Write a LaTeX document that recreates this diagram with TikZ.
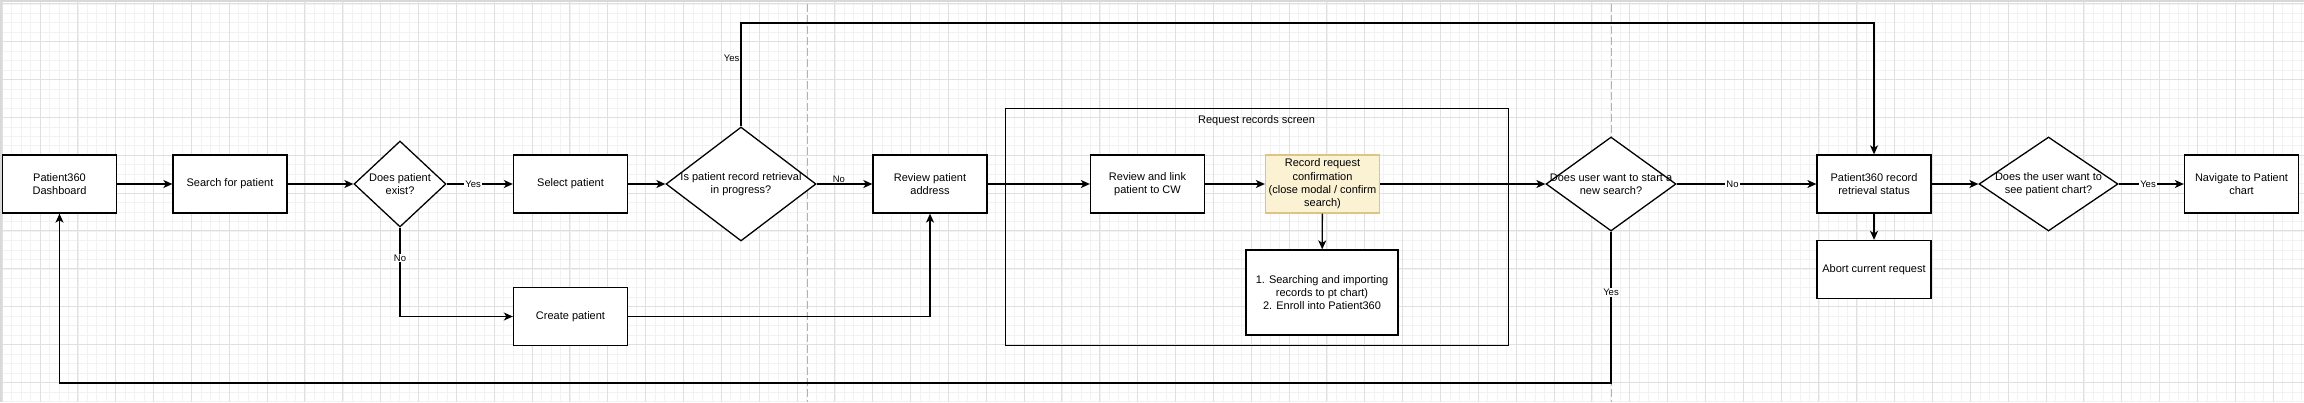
\documentclass[tikz,border=0pt]{standalone}
\usepackage{fontspec}
\setmainfont{Liberation Sans}
\usepackage{xcolor}
\usetikzlibrary{shapes.geometric, arrows.meta}

\definecolor{confirmfill}{HTML}{FBF1D3}
\definecolor{confirmline}{HTML}{DCC483}

\begin{document}
\begin{tikzpicture}[
        x=1pt, y=-1pt,
        font=\fontsize{11}{13.3}\selectfont,
        box/.style={draw, line width=1.3pt, fill=white, minimum width=114pt,
                    minimum height=58pt, align=center, inner sep=2pt},
        decision/.style={diamond, draw, line width=1.3pt, fill=white, inner sep=0pt},
        dtext/.style={align=center},
        lbl/.style={font=\fontsize{9.5}{11}\selectfont, fill=white, inner sep=1pt},
        arr/.style={-{Stealth[length=9pt, width=8pt, inset=2.5pt]}, line width=1.3pt},
        minorline/.style={draw=black!5, line width=0.6pt},
        majorline/.style={draw=black!12, line width=1pt},
        guide/.style={draw=black!30, dash pattern=on 8pt off 3pt, line width=0.8pt}
    ]
        \useasboundingbox (0,0) rectangle (2304,402);
        % background grid
        \fill[white] (0,0) rectangle (2304,402);
        \foreach \i in {0,...,243} \draw[minorline] ({2.15+9.4625*\i},0) -- ++(0,402);
        \foreach \j in {0,...,42} \draw[minorline] (0,{3.85+9.4625*\j}) -- ++(2304,0);
        \foreach \i in {0,...,60} \draw[majorline] ({2.15+37.85*\i},0) -- ++(0,402);
        \foreach \j in {0,...,10} \draw[majorline] (0,{3.85+37.85*\j}) -- ++(2304,0);
        \draw[black!15, line width=1.5pt] (1,402) -- (1,1) -- (2304,1);
        \draw[guide] (807,4) -- (807,402);
        \draw[guide] (1611,4) -- (1611,402);

        \node[draw, line width=1pt, minimum width=503pt, minimum height=237pt,
              anchor=north west] (screen) at (1005,108) {};
        \node (screentitle) at (1256.5,121) {Request records screen};

        \node[box] (dash)     at (59.5,184)   {Patient360\\Dashboard};
        \node[box] (search)   at (230,184)    {Search for patient};
        \node[decision, minimum width=92pt, minimum height=86pt,
              label={[dtext]center:Does patient\\exist?}] (exist) at (400,184) {};
        \node[box] (select)   at (570.5,184)  {Select patient};
        \node[box] (create)   at (570.5,316.5) {Create patient};
        \node[decision, minimum width=150pt, minimum height=114pt,
              label={[dtext]center:Is patient record retrieval\\in progress?}] (inprog) at (741,184) {};
        \node[box] (review)   at (930,184)    {Review patient\\address};
        \node[box] (link)     at (1147.5,184) {Review and link\\patient to CW};
        \node[box, fill=confirmfill, draw=confirmline] (confirm) at (1322.5,184)
              {Record request\\confirmation\\(close modal / confirm\\search)};
        \node[box, minimum width=152pt, minimum height=85pt] (importing) at (1322,292.5)
              {1. Searching and importing\\records to pt chart)\\2. Enroll into Patient360};
        \node[decision, minimum width=130pt, minimum height=94pt,
              label={[dtext]center:Does user want to start a\\new search?}] (newsearch) at (1611,184) {};
        \node[box] (status)   at (1874,184)   {Patient360 record\\retrieval status};
        \node[box] (abort)    at (1874,269.5) {Abort current request};
        \node[decision, minimum width=139pt, minimum height=94pt,
              label={[dtext]center:Does the user want to\\see patient chart?}] (seechart) at (2048.5,184) {};
        \node[box] (navigate) at (2241.5,184) {Navigate to Patient\\chart};

        \coordinate (topY) at (0,23);
        \coordinate (botY) at (0,383);

        \draw[arr] (dash) -- (search); \draw[arr] (search) -- (exist);
        \draw[arr] (exist) -- node[lbl, pos=0.4] {Yes} (select);
        \draw[arr] (exist.south) |- node[lbl, pos=0.17] {No} (create.west);
        \draw[arr] (select) -- (inprog);
        \draw[arr] (inprog.north) -- node[lbl, pos=0.66, anchor=east, fill=none] {Yes}
              (inprog.north |- topY) -| (status.north);
        \draw[arr] (inprog) -- node[lbl, above, pos=0.4] {No} (review);
        \draw[arr] (create.east) -| (review.south);
        \draw[arr] (review) -- (link); \draw[arr] (link) -- (confirm);
        \draw[arr] (confirm) -- (newsearch); \draw[arr] (confirm) -- (importing);
        \draw[arr] (newsearch) -- node[lbl, pos=0.4] {No} (status);
        \draw[arr] (newsearch.south) -- node[lbl, pos=0.4] {Yes}
              (newsearch.south |- botY) -| (dash.south);
        \draw[arr] (status) -- (seechart); \draw[arr] (status) -- (abort);
        \draw[arr] (seechart) -- node[lbl, pos=0.45] {Yes} (navigate);
    \end{tikzpicture}
\end{document}
